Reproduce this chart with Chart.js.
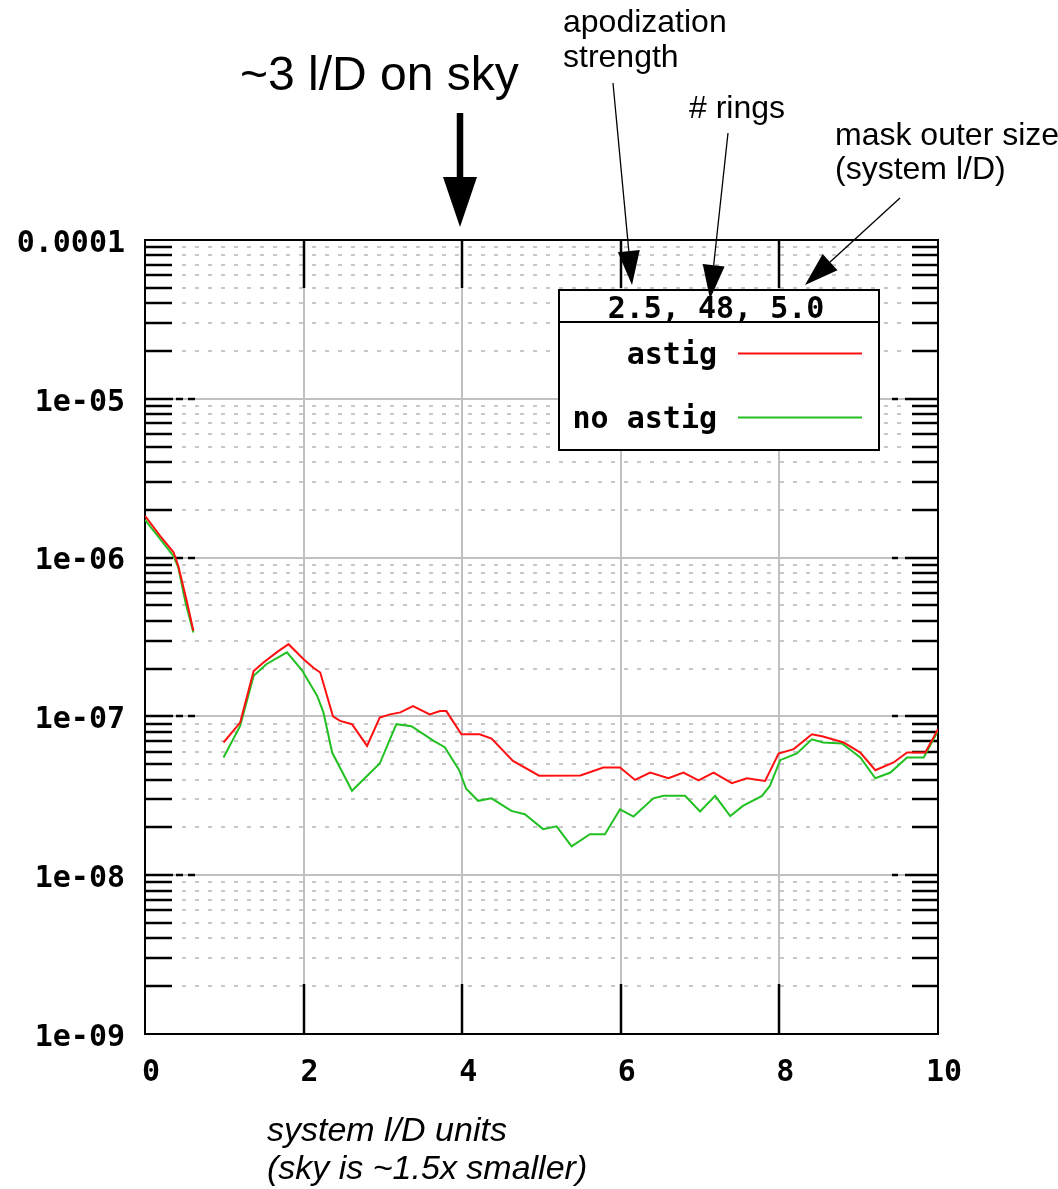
<!DOCTYPE html>
<html>
<head>
<meta charset="utf-8">
<script src="https://cdn.jsdelivr.net/npm/chart.js@4.4.0/dist/chart.umd.min.js"></script>
<style>
  body { margin: 0; background: #fff; }
  #wrap { width: 1058px; height: 1189px; }
</style>
</head>
<body>
<div id="wrap"><canvas id="contrast" width="1058" height="1189"></canvas></div>
<script>
// separation in system l/D, contrast values (null = gap in the curve)
const astigX = [0, 0.19, 0.36, 0.42, 0.53, 0.61, 0.8, 0.99, 1.2, 1.37, 1.49, 1.66, 1.81, 2.0, 2.12, 2.21, 2.37, 2.46, 2.61, 2.8,
  2.96, 3.09, 3.22, 3.38, 3.59, 3.72, 3.8, 3.99, 4.22, 4.37, 4.64, 4.97, 5.49, 5.78, 5.99, 6.18, 6.37, 6.6, 6.79, 6.98,
  7.17, 7.4, 7.59, 7.82, 7.99, 8.18, 8.41, 8.55, 8.81, 9.02, 9.21, 9.44, 9.61, 9.84, 10];
const astigY = [1.83e-6, 1.37e-6, 1.08e-6, 8.86e-7, 5.23e-7, 3.46e-7, null, 6.85e-8, 9.15e-8, 1.93e-7, 2.18e-7, 2.53e-7, 2.85e-7, 2.29e-7, 2.03e-7, 1.89e-7, 1.0e-7, 9.37e-8, 8.93e-8, 6.52e-8,
  9.84e-8, 1.03e-7, 1.06e-7, 1.16e-7, 1.03e-7, 1.08e-7, 1.08e-7, 7.72e-8, 7.72e-8, 7.24e-8, 5.24e-8, 4.23e-8, 4.25e-8, 4.77e-8, 4.77e-8, 3.98e-8, 4.43e-8, 4.08e-8, 4.43e-8, 3.96e-8,
  4.43e-8, 3.8e-8, 4.08e-8, 3.92e-8, 5.84e-8, 6.22e-8, 7.72e-8, 7.47e-8, 6.85e-8, 5.92e-8, 4.58e-8, 5.13e-8, 5.92e-8, 5.92e-8, 8.3e-8];

const noAstigX = [0, 0.19, 0.36, 0.42, 0.51, 0.61, 0.8, 0.99, 1.2, 1.37, 1.53, 1.79, 1.98, 2.17, 2.25, 2.36, 2.61, 2.96, 3.17, 3.36,
  3.64, 3.78, 3.96, 4.05, 4.2, 4.37, 4.62, 4.79, 5.02, 5.19, 5.38, 5.61, 5.8, 5.99, 6.16, 6.41, 6.54, 6.81, 7.0, 7.19,
  7.38, 7.54, 7.78, 7.88, 8.01, 8.22, 8.41, 8.55, 8.79, 9.02, 9.21, 9.4, 9.61, 9.82, 10];
const noAstigY = [1.73e-6, 1.31e-6, 1.02e-6, 8.66e-7, 5.23e-7, 3.38e-7, null, 5.51e-8, 8.71e-8, 1.80e-7, 2.13e-7, 2.53e-7, 1.95e-7, 1.35e-7, 1.06e-7, 5.92e-8, 3.4e-8, 5.05e-8, 8.93e-8, 8.68e-8,
  7.01e-8, 6.4e-8, 4.6e-8, 3.5e-8, 2.94e-8, 3.05e-8, 2.54e-8, 2.42e-8, 1.95e-8, 2.03e-8, 1.52e-8, 1.81e-8, 1.81e-8, 2.6e-8, 2.34e-8, 3.05e-8, 3.16e-8, 3.16e-8, 2.52e-8, 3.16e-8,
  2.36e-8, 2.73e-8, 3.16e-8, 3.65e-8, 5.3e-8, 5.84e-8, 7.18e-8, 6.85e-8, 6.75e-8, 5.51e-8, 4.08e-8, 4.43e-8, 5.51e-8, 5.51e-8, 8.1e-8];

const seriesNames = ['astig', 'no astig'];
const seriesColors = ['#ff1010', '#22c022'];
const legendTitle = '2.5, 48, 5.0';

const decadeValues = [1e-9, 1e-8, 1e-7, 1e-6, 1e-5, 1e-4];
const decadeLabels = ['1e-09', '1e-08', '1e-07', '1e-06', '1e-05', '0.0001'];
const minorSteps = [2, 3, 4, 5, 6, 7, 8, 9];
const xTicks = [0, 2, 4, 6, 8, 10];
const xTitle = ['system l/D units', '(sky is ~1.5x smaller)'];

// tick positions for the log axis: decades + 2..9 inside each decade
const minorValues = [];
decadeValues.slice(0, -1).forEach(d => minorSteps.forEach(m => minorValues.push(m * d)));
const yTickValues = decadeValues.concat(minorValues).sort((a, b) => a - b);

const monoFont = { family: '"DejaVu Sans Mono", monospace', size: 30, weight: 'bold' };
const sansFont = '"Liberation Sans", Arial, sans-serif';

function toPoints(xs, ys) {
  return xs.map((x, i) => ({ x: x, y: ys[i] }));
}

function seg(ctx, x1, y1, x2, y2) {
  ctx.beginPath();
  ctx.moveTo(x1, y1);
  ctx.lineTo(x2, y2);
  ctx.stroke();
}

function arrow(ctx, x1, y1, x2, y2, w, headLen, headHalf) {
  const ang = Math.atan2(y2 - y1, x2 - x1);
  const bx = x2 - headLen * Math.cos(ang), by = y2 - headLen * Math.sin(ang);
  ctx.lineWidth = w;
  seg(ctx, x1, y1, bx, by);
  ctx.beginPath();
  ctx.moveTo(x2, y2);
  ctx.lineTo(bx + headHalf * Math.sin(ang), by - headHalf * Math.cos(ang));
  ctx.lineTo(bx - headHalf * Math.sin(ang), by + headHalf * Math.cos(ang));
  ctx.closePath();
  ctx.fill();
}

const gnuplotLook = {
  id: 'gnuplotLook',
  beforeDatasetsDraw(chart) {
    const { ctx, chartArea: a, scales: { x, y } } = chart;
    ctx.save();
    // dotted minor grid
    ctx.strokeStyle = '#c8c8c8';
    ctx.lineWidth = 2;
    ctx.setLineDash([4, 9]);
    minorValues.forEach(v => {
      const py = Math.round(y.getPixelForValue(v));
      seg(ctx, a.left + 37, py, a.right - 36, py);
    });
    ctx.setLineDash([]);
    // solid grid at decades and major x ticks
    ctx.strokeStyle = '#c0c0c0';
    decadeValues.slice(1, -1).forEach(v => {
      const py = Math.round(y.getPixelForValue(v));
      seg(ctx, a.left, py, a.right, py);
    });
    xTicks.slice(1, -1).forEach(v => {
      const px = Math.round(x.getPixelForValue(v));
      seg(ctx, px, a.top, px, a.bottom);
    });
    // black tick marks
    ctx.strokeStyle = '#000';
    ctx.lineWidth = 2.5;
    minorValues.forEach(v => {
      const py = Math.round(y.getPixelForValue(v));
      seg(ctx, a.left, py, a.left + 27, py);
      seg(ctx, a.right - 26, py, a.right, py);
    });
    decadeValues.slice(1, -1).forEach(v => {
      const py = Math.round(y.getPixelForValue(v));
      seg(ctx, a.left, py, a.left + 28, py);
      seg(ctx, a.left + 31, py, a.left + 38, py);
      seg(ctx, a.left + 43, py, a.left + 50, py);
      seg(ctx, a.right - 33, py, a.right, py);
      seg(ctx, a.right - 46, py, a.right - 40, py);
    });
    xTicks.slice(1, -1).forEach(v => {
      const px = Math.round(x.getPixelForValue(v));
      seg(ctx, px, a.bottom, px, a.bottom - 50);
      seg(ctx, px, a.top, px, a.top + 48);
    });
    // frame
    ctx.lineWidth = 2;
    ctx.strokeRect(a.left, a.top, a.right - a.left, a.bottom - a.top);
    ctx.restore();
  },
  afterDatasetsDraw(chart) {
    const ctx = chart.ctx;
    ctx.save();
    // key box
    const bx = 559, by = 290, bw = 320, bh = 160;
    ctx.fillStyle = '#fff';
    ctx.fillRect(bx, by, bw, bh);
    ctx.strokeStyle = '#000';
    ctx.lineWidth = 2;
    ctx.strokeRect(bx, by, bw, bh);
    seg(ctx, bx, 322, bx + bw, 322);
    ctx.fillStyle = '#000';
    ctx.font = 'bold 30px "DejaVu Sans Mono", monospace';
    ctx.textBaseline = 'alphabetic';
    ctx.textAlign = 'center';
    ctx.fillText(legendTitle, 716, 318);
    ctx.textAlign = 'right';
    chart.data.datasets.forEach((ds, i) => {
      const ty = 364 + i * 64;
      ctx.fillStyle = '#000';
      ctx.fillText(ds.label, 717, ty);
      ctx.strokeStyle = ds.borderColor;
      ctx.lineWidth = 2;
      seg(ctx, 738, ty - 10.5, 862, ty - 10.5);
    });

    // annotations above the plot
    ctx.fillStyle = '#000';
    ctx.strokeStyle = '#000';
    ctx.textAlign = 'left';
    ctx.font = '48px ' + sansFont;
    ctx.fillText('~3 l/D on sky', 240, 90);
    ctx.font = '32px ' + sansFont;
    ctx.fillText('apodization', 563, 32);
    ctx.fillText('strength', 563, 67);
    ctx.fillText('# rings', 689, 118);
    ctx.fillText('mask outer size', 835, 145);
    ctx.fillText('(system l/D)', 835, 179);
    arrow(ctx, 460, 113, 460, 227, 6.5, 50, 17);
    arrow(ctx, 613, 83, 632, 285, 1.3, 34, 11);
    arrow(ctx, 728, 133, 710, 299, 1.3, 34, 11);
    arrow(ctx, 900, 198, 805, 285, 1.3, 34, 11);

    // x axis title
    ctx.font = 'italic 34px ' + sansFont;
    ctx.fillText(xTitle[0], 267, 1141);
    ctx.fillText(xTitle[1], 267, 1179);
    ctx.restore();
  }
};

new Chart('contrast', {
  type: 'line',
  data: {
    datasets: [{
      label: seriesNames[0],
      data: toPoints(astigX, astigY),
      borderColor: seriesColors[0],
      borderWidth: 2,
      pointRadius: 0,
      spanGaps: false,
      tension: 0
    }, {
      label: seriesNames[1],
      data: toPoints(noAstigX, noAstigY),
      borderColor: seriesColors[1],
      borderWidth: 2,
      pointRadius: 0,
      spanGaps: false,
      tension: 0
    }]
  },
  options: {
    responsive: false,
    animation: false,
    events: [],
    layout: { padding: { top: 240, right: 120, bottom: 0, left: 0 } },
    plugins: { legend: { display: false }, title: { display: false }, tooltip: { enabled: false } },
    scales: {
      x: {
        type: 'linear', min: 0, max: 10,
        afterBuildTicks: s => { s.ticks = xTicks.map(v => ({ value: v })); },
        afterFit: s => { s.height = 155; },
        grid: { display: false, drawTicks: false },
        border: { display: false },
        ticks: { autoSkip: false, maxRotation: 0, padding: 21, labelOffset: 6, color: '#000', font: monoFont }
      },
      y: {
        type: 'logarithmic', min: 1e-9, max: 1e-4,
        afterBuildTicks: s => { s.ticks = yTickValues.map(v => ({ value: v })); },
        afterFit: s => { s.width = 145; },
        grid: { display: false, drawTicks: false },
        border: { display: false },
        ticks: {
          autoSkip: false, padding: 20, labelOffset: 4, color: '#000', font: monoFont,
          callback: v => {
            const i = decadeValues.findIndex(d => Math.abs(d - v) < d * 1e-6);
            return i >= 0 ? decadeLabels[i] : '';
          }
        }
      }
    }
  },
  plugins: [gnuplotLook]
});
</script>
</body>
</html>
